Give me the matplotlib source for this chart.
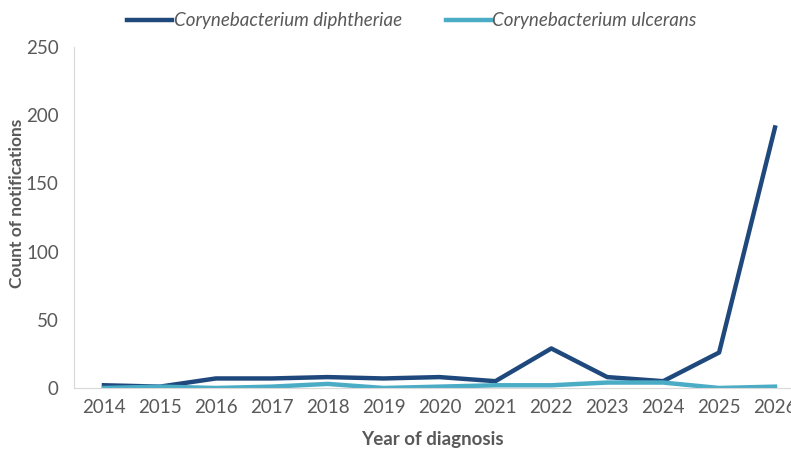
import matplotlib
matplotlib.use("Agg")
import matplotlib.pyplot as plt

# Datos
years = [2014, 2015, 2016, 2017, 2018, 2019, 2020, 2021, 2022, 2023, 2024, 2025, 2026]
diphtheriae = [2, 1, 7, 7, 8, 7, 8, 5, 29, 8, 5, 26, 191]
ulcerans = [0, 1, 0, 1, 3, 0, 1, 2, 2, 4, 4, 0, 1]

dark_blue = '#1F497D'
light_blue = '#4BACC6'
text_grey = '#595959'

plt.rcParams['font.family'] = ['Lato', 'DejaVu Sans']

fig = plt.figure(figsize=(7.91, 4.54), dpi=100)
ax = fig.add_axes([74 / 791, 66 / 454, 717 / 791, 341 / 454])

x = list(range(len(years)))
ax.plot(x, diphtheriae, color=dark_blue, linewidth=3.2, solid_joinstyle='round',
        label='Corynebacterium diphtheriae')
ax.plot(x, ulcerans, color=light_blue, linewidth=3.2, solid_joinstyle='round',
        label='Corynebacterium ulcerans')

ax.set_xlim(-0.536, 12.286)
ax.set_ylim(0, 250)
ax.set_yticks(range(0, 251, 50))
ax.set_xticks(x)
ax.set_xticklabels([str(y) for y in years])

ax.spines['top'].set_visible(False)
ax.spines['right'].set_visible(False)
ax.spines['left'].set_color('#D9D9D9')
ax.spines['bottom'].set_color('#D9D9D9')
ax.tick_params(axis='both', length=0, labelsize=13.5, colors=text_grey)
ax.tick_params(axis='y', pad=11)
ax.tick_params(axis='x', pad=8)

ax.set_xlabel('Year of diagnosis', fontsize=13.5, fontweight='bold', color=text_grey, labelpad=11)
ax.set_ylabel('Count of notifications', fontsize=12.5, fontweight='bold', color=text_grey)
ax.yaxis.set_label_coords(-0.069, 0.54)

leg = fig.legend(loc='upper center', bbox_to_anchor=(0.521, 1.01), ncol=2, frameon=False,
                 prop={'style': 'italic', 'size': 13.5}, handlelength=2.4, handletextpad=0.1,
                 columnspacing=2.3)
for t in leg.get_texts():
    t.set_color(text_grey)

plt.savefig('out.png', dpi=100)
plt.close()
